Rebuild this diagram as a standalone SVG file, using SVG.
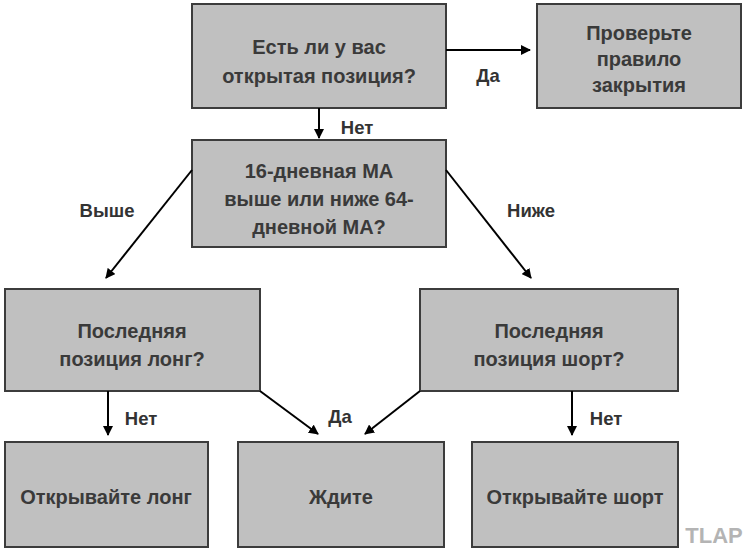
<svg xmlns="http://www.w3.org/2000/svg" width="746" height="550" viewBox="0 0 746 550">
<defs>
<marker id="ah" markerWidth="10" markerHeight="10" refX="9" refY="5" orient="auto" markerUnits="userSpaceOnUse" viewBox="0 0 10 10">
<path d="M0,0 L10,5 L0,10 z" fill="#000"/>
</marker>
<style>
.box{fill:#c0c0c0;stroke:#3c3c3c;stroke-width:2}
.t{font-family:"Liberation Sans",Arial,sans-serif;font-weight:bold;font-size:20px;fill:#3a3a3a;text-anchor:middle}
.l{font-family:"Liberation Sans",Arial,sans-serif;font-weight:bold;font-size:18.5px;fill:#333;text-anchor:middle}
.c{stroke:#000;stroke-width:2;fill:none;marker-end:url(#ah)}
</style>
</defs>
<rect width="746" height="550" fill="#fff"/>
<g id="q1"><rect class="box" x="192" y="4" width="254" height="104"/><text class="t" x="319" y="54">Есть ли у вас</text><text class="t" x="319" y="83">открытая позиция?</text></g>
<g id="check"><rect class="box" x="537" y="4" width="204" height="104"/><text class="t" x="639" y="40">Проверьте</text><text class="t" x="639" y="66">правило</text><text class="t" x="639" y="92">закрытия</text></g>
<g id="q2"><rect class="box" x="192" y="140" width="254" height="107"/><text class="t" x="319" y="178">16-дневная МА</text><text class="t" x="319" y="206">выше или ниже 64-</text><text class="t" x="319" y="234">дневной МА?</text></g>
<g id="q3"><rect class="box" x="5" y="289" width="255" height="102"/><text class="t" x="132" y="338">Последняя</text><text class="t" x="132" y="366">позиция лонг?</text></g>
<g id="q4"><rect class="box" x="420" y="289" width="258" height="102"/><text class="t" x="549" y="338">Последняя</text><text class="t" x="549" y="366">позиция шорт?</text></g>
<g id="openlong"><rect class="box" x="5" y="442" width="203" height="105"/><text class="t" x="106" y="504">Открывайте лонг</text></g>
<g id="wait"><rect class="box" x="238" y="442" width="206" height="105"/><text class="t" x="341" y="504">Ждите</text></g>
<g id="openshort"><rect class="box" x="472" y="442" width="206" height="105"/><text class="t" x="575" y="504">Открывайте шорт</text></g>
<g id="connectors">
<line class="c" x1="446" y1="50" x2="530" y2="50"/>
<line class="c" x1="319" y1="108" x2="319" y2="138"/>
<line class="c" x1="192" y1="170" x2="106" y2="278"/>
<line class="c" x1="446" y1="170" x2="531" y2="278"/>
<line class="c" x1="108" y1="391" x2="108" y2="435"/>
<line class="c" x1="260" y1="391" x2="318" y2="434"/>
<line class="c" x1="420" y1="391" x2="365" y2="434"/>
<line class="c" x1="572" y1="391" x2="572" y2="435"/>
<text class="l" x="488" y="82">Да</text>
<text class="l" x="357" y="134">Нет</text>
<text class="l" x="107" y="217">Выше</text>
<text class="l" x="531" y="217">Ниже</text>
<text class="l" x="141" y="425">Нет</text>
<text class="l" x="340" y="423">Да</text>
<text class="l" x="606" y="425">Нет</text>
</g>
<text x="714" y="543" font-family="'Liberation Sans',Arial,sans-serif" font-weight="bold" font-size="22" fill="#b4b4b4" text-anchor="middle">TLAP</text>
</svg>
